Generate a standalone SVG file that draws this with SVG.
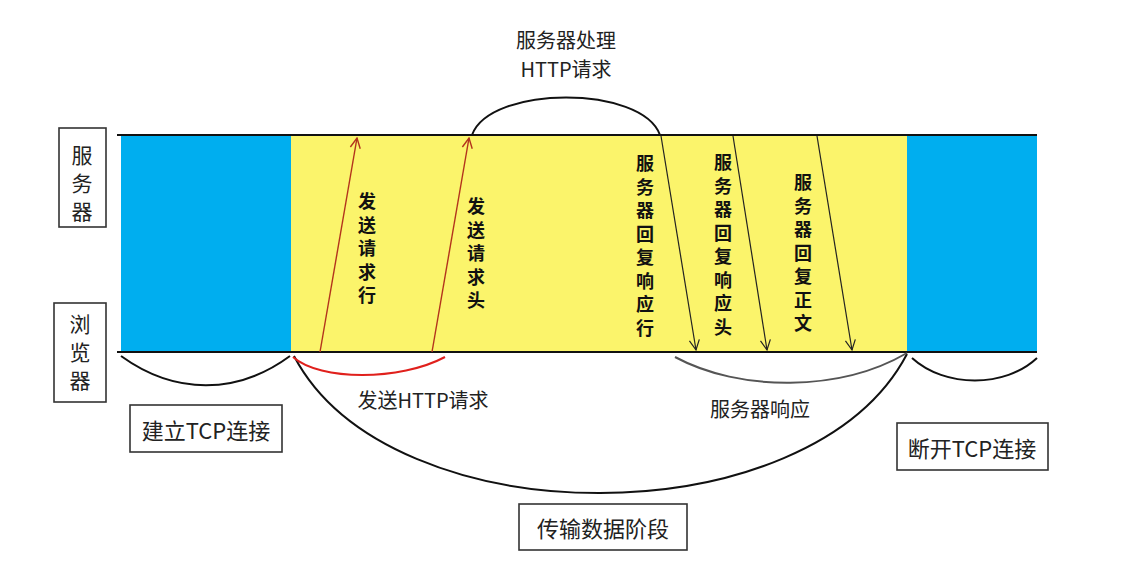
<svg xmlns="http://www.w3.org/2000/svg" width="1142" height="570" viewBox="0 0 1142 570">
<style>
text{font-family:"Noto Sans CJK SC","Liberation Sans",sans-serif;fill:#222;text-anchor:middle;dominant-baseline:central}
.box{fill:#fff;stroke:#333;stroke-width:1.6}
.lbl{font-size:20px}
.big{font-size:22px}
.vt{font-size:18px;font-weight:bold;fill:#111}
.side{font-size:21px}
.arc{fill:none;stroke:#111;stroke-width:2}
.rline{stroke:#b3331c;stroke-width:1.4;fill:none}
.kline{stroke:#222;stroke-width:1.2;fill:none}
</style>
<defs>
<marker id="ar" viewBox="0 0 12 12" refX="11" refY="6" markerWidth="12" markerHeight="12" markerUnits="userSpaceOnUse" orient="auto">
<path d="M1,1 L11,6 L1,11" fill="none" stroke="#b3331c" stroke-width="1.4"/>
</marker>
<marker id="ak" viewBox="0 0 12 12" refX="11" refY="6" markerWidth="12" markerHeight="12" markerUnits="userSpaceOnUse" orient="auto">
<path d="M1,1 L11,6 L1,11" fill="none" stroke="#222" stroke-width="1.2"/>
</marker>
</defs>
<rect width="1142" height="570" fill="#fff"/>
<g id="band">
<rect x="121" y="135" width="170" height="217" fill="#00aeef"/>
<rect x="291" y="135" width="616" height="217" fill="#fbf46b"/>
<rect x="907" y="135" width="130" height="217" fill="#00aeef"/>
<line x1="117" y1="135" x2="1037" y2="135" stroke="#111" stroke-width="2"/>
<line x1="117" y1="352" x2="1037" y2="352" stroke="#111" stroke-width="2"/>
</g>
<g id="server">
<rect class="box" x="59" y="128" width="47" height="99"/>
<text class="side"><tspan x="82" y="154">服</tspan><tspan x="82" y="182">务</tspan><tspan x="82" y="210">器</tspan></text>
</g>
<g id="browser">
<rect class="box" x="54" y="303" width="52" height="99"/>
<text class="side"><tspan x="80" y="323">浏</tspan><tspan x="80" y="351">览</tspan><tspan x="80" y="379">器</tspan></text>
</g>
<g id="connectors">
<path class="arc" d="M121,356 C175,395 237,395 290,356"/>
<path class="arc" d="M294,356 C390,539 810,539 907,354"/>
<path class="arc" d="M912,358 C945,388 1005,388 1037,358"/>
<path class="arc" d="M472,135 C490,85 642,85 660,135"/>
<path d="M293,357 C320,381 400,381 445,357" fill="none" stroke="#e0201c" stroke-width="2"/>
<path d="M675,357 C740,392 840,392 907,353" fill="none" stroke="#555" stroke-width="2"/>
<line class="rline" x1="320" y1="352" x2="357" y2="138" marker-end="url(#ar)"/>
<line class="rline" x1="432" y1="352" x2="469" y2="138" marker-end="url(#ar)"/>
<line class="kline" x1="661" y1="136" x2="696" y2="350" marker-end="url(#ak)"/>
<line class="kline" x1="733" y1="136" x2="767" y2="350" marker-end="url(#ak)"/>
<line class="kline" x1="817" y1="136" x2="852" y2="350" marker-end="url(#ak)"/>
</g>
<g id="send-line">
<text class="vt"><tspan x="367" y="200">发</tspan><tspan x="367" y="223.5">送</tspan><tspan x="367" y="247">请</tspan><tspan x="367" y="270.5">求</tspan><tspan x="367" y="294">行</tspan></text>
</g>
<g id="send-head">
<text class="vt"><tspan x="476" y="205">发</tspan><tspan x="476" y="228.5">送</tspan><tspan x="476" y="252">请</tspan><tspan x="476" y="275.5">求</tspan><tspan x="476" y="299">头</tspan></text>
</g>
<g id="resp-line">
<text class="vt"><tspan x="645" y="162">服</tspan><tspan x="645" y="185.5">务</tspan><tspan x="645" y="209">器</tspan><tspan x="645" y="232.5">回</tspan><tspan x="645" y="256">复</tspan><tspan x="645" y="279.5">响</tspan><tspan x="645" y="303">应</tspan><tspan x="645" y="326.5">行</tspan></text>
</g>
<g id="resp-head">
<text class="vt"><tspan x="723" y="161">服</tspan><tspan x="723" y="184.5">务</tspan><tspan x="723" y="208">器</tspan><tspan x="723" y="231.5">回</tspan><tspan x="723" y="255">复</tspan><tspan x="723" y="278.5">响</tspan><tspan x="723" y="302">应</tspan><tspan x="723" y="325.5">头</tspan></text>
</g>
<g id="resp-body">
<text class="vt"><tspan x="803" y="181">服</tspan><tspan x="803" y="204.5">务</tspan><tspan x="803" y="228">器</tspan><tspan x="803" y="251.5">回</tspan><tspan x="803" y="275">复</tspan><tspan x="803" y="298.5">正</tspan><tspan x="803" y="322">文</tspan></text>
</g>
<g id="server-process">
<text class="lbl" x="566" y="39">服务器处理</text>
<text class="lbl" x="566" y="68">HTTP请求</text>
</g>
<g id="send-http">
<text class="lbl" x="423" y="399">发送HTTP请求</text>
</g>
<g id="server-resp">
<text class="lbl" x="760" y="408">服务器响应</text>
</g>
<g id="tcp-open">
<rect class="box" x="130" y="405" width="152" height="47"/>
<text class="big" x="206" y="429">建立TCP连接</text>
</g>
<g id="tcp-close">
<rect class="box" x="897" y="423" width="151" height="47"/>
<text class="big" x="972" y="447">断开TCP连接</text>
</g>
<g id="transfer">
<rect class="box" x="519" y="504" width="168" height="46"/>
<text class="big" x="603" y="527">传输数据阶段</text>
</g>
</svg>
